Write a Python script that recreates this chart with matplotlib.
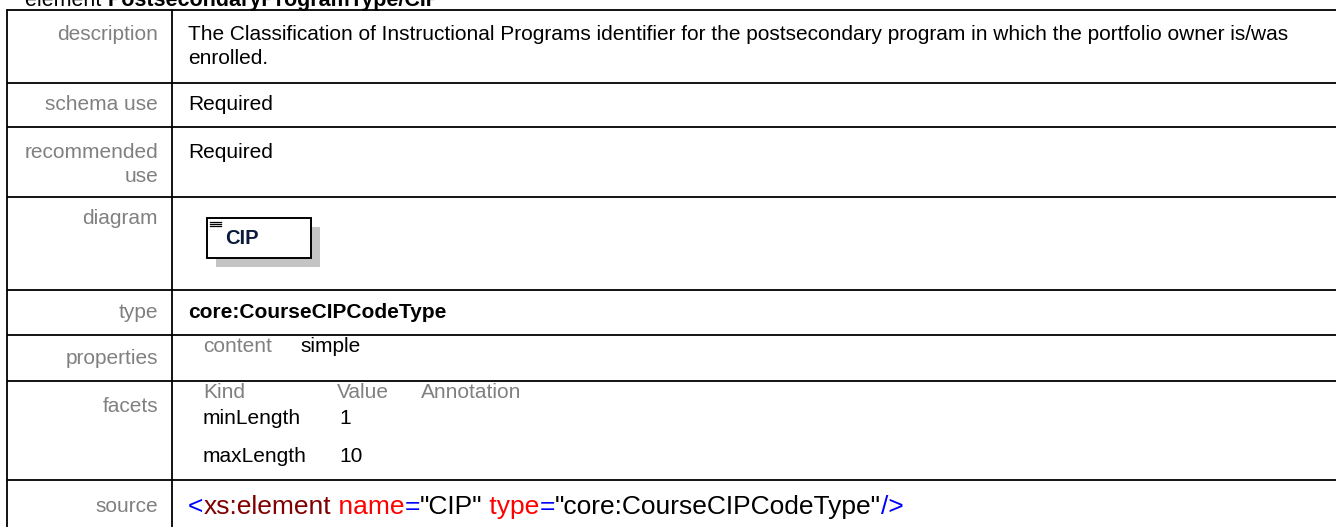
import matplotlib
matplotlib.use("Agg")
import matplotlib.pyplot as plt
from matplotlib.patches import Rectangle

plt.rcParams['font.family'] = ['Liberation Sans', 'DejaVu Sans']

# table content
row_labels = ["description", "schema use", "recommended\nuse", "diagram", "type",
              "properties", "facets", "source"]
description = ("The Classification of Instructional Programs identifier for the postsecondary "
               "program in which the portfolio owner is/was\nenrolled.")
schema_use = "Required"
recommended_use = "Required"
element_name = "CIP"
type_name = "core:CourseCIPCodeType"
prop_names = ["content"]
prop_values = ["simple"]
facet_header = ["Kind", "Value", "Annotation"]
facet_kinds = ["minLength", "maxLength"]
facet_values = ["1", "10"]
source_parts = [("<", "#0000ff"), ("xs:element", "#800000"), (" name", "#ff0000"),
                ("=", "#0000ff"), ('"CIP"', "#000000"), (" type", "#ff0000"),
                ("=", "#0000ff"), ('"core:CourseCIPCodeType"', "#000000"), ("/>", "#0000ff")]
title_parts = [("element ", "normal"), ("PostsecondaryProgramType/CIP", "bold")]

# layout in pixels
W, H = 1336, 527
row_lines = [10, 83, 127, 197, 290, 335, 381, 480]
label_y = [34, 105, 152, 219, 312, 358, 406, 507]
col_x = 172
lab_x = 158
fs = 15
grey = "#808080"

fig = plt.figure(figsize=(W / 100, H / 100), dpi=100)
ax = fig.add_axes([0, 0, 1, 1])
ax.set_xlim(0, W)
ax.set_ylim(H, 0)
ax.axis("off")

# grid lines
for y in row_lines:
    ax.plot([7, W + 5], [y, y], color="black", lw=1.3, solid_capstyle="butt")
ax.plot([7, 7], [10, H + 5], color="black", lw=1.3)
ax.plot([col_x, col_x], [10, H + 5], color="black", lw=1.3)

# row labels (right aligned, grey)
for lab, y in zip(row_labels, label_y):
    for k, part in enumerate(lab.split("\n")):
        ax.text(lab_x, y + 24 * k, part, ha="right", va="center", color=grey, fontsize=fs)

cx = 188
d1, d2 = description.split("\n")
ax.text(cx, 34, d1, ha="left", va="center", fontsize=fs)
ax.text(cx, 58, d2, ha="left", va="center", fontsize=fs)
ax.text(cx, 105, schema_use, ha="left", va="center", fontsize=fs)
ax.text(cx, 152, recommended_use, ha="left", va="center", fontsize=fs)

# diagram box with shadow
ax.add_patch(Rectangle((216, 227), 104, 40, facecolor="#c4c4c4", edgecolor="none"))
ax.add_patch(Rectangle((207, 218), 104, 40, facecolor="white", edgecolor="black", lw=1.4))
for k in range(3):
    ax.plot([210, 221], [221.5 + 2.3 * k, 221.5 + 2.3 * k], color="black", lw=0.9)
ax.text(225, 239, element_name, ha="left", va="center", fontsize=14.5,
        fontweight="bold", color="#0a1a3a")

ax.text(cx, 312, type_name, ha="left", va="center", fontsize=fs, fontweight="bold")

# properties
ax.text(203, 347, prop_names[0], ha="left", va="center", color=grey, fontsize=fs)
ax.text(300, 347, prop_values[0], ha="left", va="center", fontsize=fs)

# facets
for txt, x in zip(facet_header, [203, 337, 421]):
    ax.text(x, 393, txt, ha="left", va="center", color=grey, fontsize=fs)
for kind, val, y in zip(facet_kinds, facet_values, [418, 456]):
    ax.text(203, y, kind, ha="left", va="center", fontsize=fs)
    ax.text(339, y, val, ha="left", va="center", fontsize=fs)

# coloured source text, pieces placed one after another
fig.canvas.draw()
r = fig.canvas.get_renderer()
x = 188
for txt, col in source_parts:
    t = ax.text(x, 507, txt, ha="left", va="center", color=col, fontsize=19)
    x += t.get_window_extent(renderer=r).width

# title, cut off at top of image
x = 25
for txt, wt in title_parts:
    t = ax.text(x, 6, txt, ha="left", va="baseline", fontsize=15.5, fontweight=wt)
    x += t.get_window_extent(renderer=r).width

fig.savefig("out.png", dpi=100)
